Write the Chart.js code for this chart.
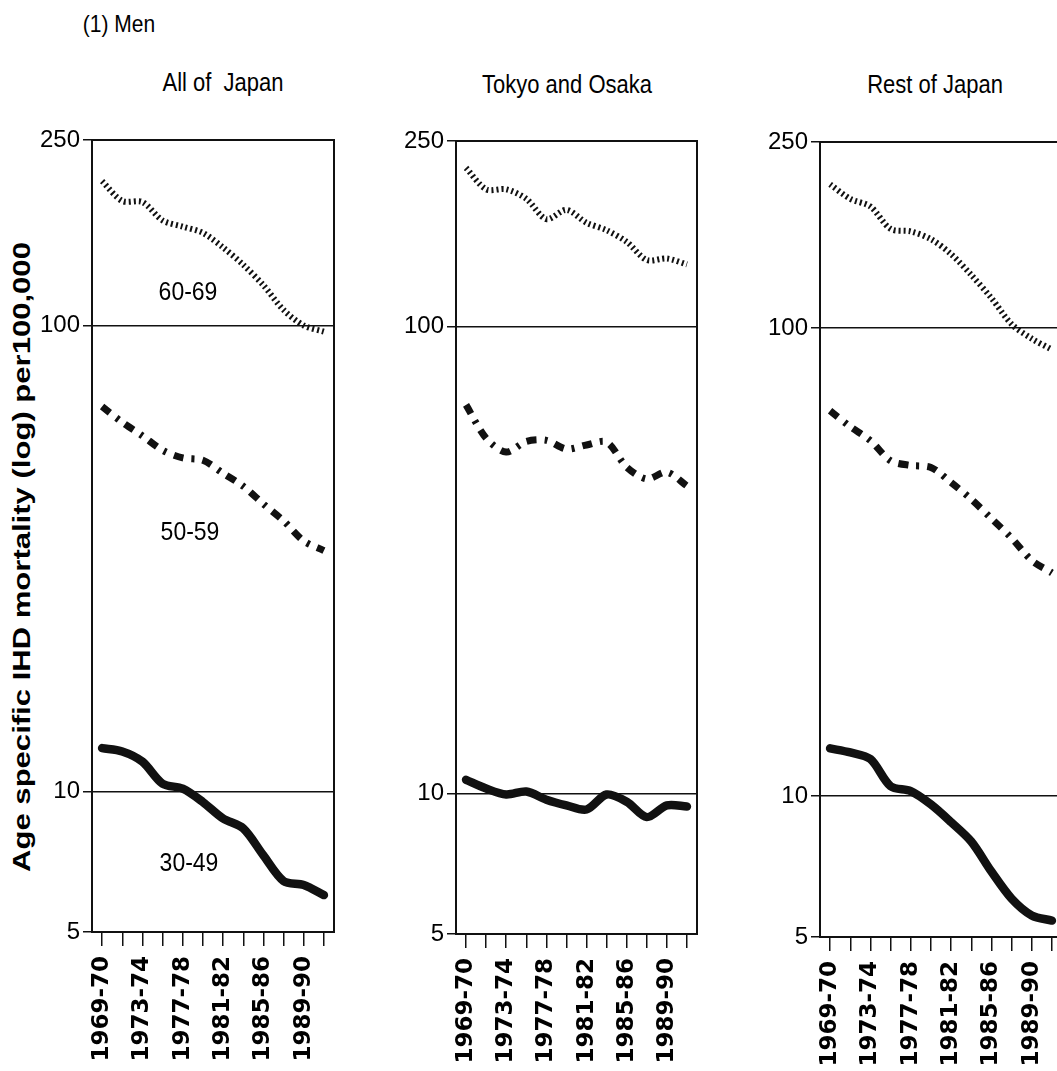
<!DOCTYPE html>
<html>
<head>
<meta charset="utf-8">
<script src="https://cdn.jsdelivr.net/npm/chart.js@4.4.1/dist/chart.umd.min.js"></script>
<style>
  html, body { margin: 0; padding: 0; background: #fff; overflow: hidden; }
  body { width: 1057px; height: 1071px; position: relative; font-family: "Liberation Sans", Arial, sans-serif; color: #000; }
  canvas { position: absolute; top: 0; }
  .txt { position: absolute; white-space: pre; transform: translate(-50%, -50%) scaleY(1.15); font-size: 22px; }
  .ytitle { position: absolute; white-space: nowrap; font-weight: bold; font-size: 23px;
            transform: translate(-50%, -50%) rotate(-90deg) scaleX(1.35); }
</style>
</head>
<body>
<div class="txt" style="left:119px; top:24px; font-size:21px;">(1) Men</div>
<div class="txt" style="left:223px; top:83px;">All of  Japan</div>
<div class="txt" style="left:567px; top:85px;">Tokyo and Osaka</div>
<div class="txt" style="left:935px; top:85px;">Rest of Japan</div>
<div class="ytitle" style="left:22px; top:557px;">Age specific IHD mortality (log) per100,000</div>

<canvas id="p1" width="345" height="1071" style="left:0px"></canvas>
<canvas id="p2" width="350" height="1071" style="left:360px"></canvas>
<canvas id="p3" width="360" height="1071" style="left:720px"></canvas>

<div class="txt" style="left:188px; top:291px; font-size:23px;">60-69</div>
<div class="txt" style="left:190px; top:531px; font-size:23px;">50-59</div>
<div class="txt" style="left:189px; top:862px; font-size:23px;">30-49</div>

<script>
// periods on the x axis, every other one is labelled
const categories = ['1969-70', '1971-72', '1973-74', '1975-76', '1977-78', '1979-80',
                    '1981-82', '1983-84', '1985-86', '1987-88', '1989-90', '1991-92'];
const yTicks = [5, 10, 100, 250];

// All of Japan
const allJapan60 = [204, 185, 184, 168, 163, 158, 147, 135, 122, 108, 100, 97];
const allJapan50 = [67, 62, 58, 54, 52, 51.4, 48.2, 45.2, 41.4, 38.1, 34.5, 32.9];
const allJapan30 = [12.4, 12.2, 11.6, 10.4, 10.15, 9.5, 8.76, 8.34, 7.3, 6.43, 6.31, 6.0];

// Tokyo and Osaka
const tokyo60 = [219, 197, 197, 188, 170, 178, 167, 161, 152, 139, 140, 136];
const tokyo50 = [68, 57.7, 53.9, 56.8, 57.1, 54.7, 55.8, 56.6, 50, 47.2, 48.8, 45.6];
const tokyo30 = [10.7, 10.25, 9.95, 10.1, 9.7, 9.43, 9.24, 9.95, 9.6, 8.9, 9.43, 9.38];

// Rest of Japan
const rest60 = [203, 189, 182, 163, 161, 155, 144, 130, 116, 102, 95, 90];
const rest50 = [66.6, 61.6, 57.5, 52.1, 50.9, 50.4, 46.8, 43.1, 39.2, 35.6, 31.9, 30];
const rest30 = [12.65, 12.4, 12.0, 10.5, 10.25, 9.6, 8.8, 8.0, 6.9, 6.04, 5.56, 5.42];

const ink = '#111';

// box round the plot area (top and right sides)
const framePlugin = {
  id: 'frame',
  afterDraw(chart) {
    const { ctx, chartArea: a } = chart;
    ctx.save();
    ctx.strokeStyle = ink;
    ctx.lineWidth = 2;
    ctx.strokeRect(a.left, a.top, a.right - a.left, a.bottom - a.top);
    ctx.restore();
  }
};

function makePanel(id, s60, s50, s30, g) {
  return new Chart(document.getElementById(id), {
    type: 'line',
    data: {
      labels: categories,
      datasets: [
        { label: '60-69', data: s60, borderColor: ink, borderWidth: 6, borderDash: [2, 3], tension: 0.3, pointRadius: 0 },
        { label: '50-59', data: s50, borderColor: ink, borderWidth: 7, borderDash: [10, 8, 3, 8], tension: 0.3, pointRadius: 0 },
        { label: '30-49', data: s30, borderColor: ink, borderWidth: 8.5, borderCapStyle: 'round', borderJoinStyle: 'round', tension: 0.3, pointRadius: 0 }
      ]
    },
    options: {
      responsive: false,
      animation: false,
      layout: { padding: { top: g.top, right: g.padRight, left: 0, bottom: 0 } },
      plugins: { legend: { display: false }, tooltip: { enabled: false } },
      scales: {
        x: {
          offset: true,
          grid: { drawOnChartArea: false, color: ink, lineWidth: 1.5, tickLength: 14 },
          border: { color: ink, width: 2 },
          ticks: {
            autoSkip: false, minRotation: 90, maxRotation: 90, padding: 10, color: '#000',
            font: { family: 'DejaVu Sans', size: 23, weight: 'bold' },
            callback: (v, i) => (i % 2 === 0 ? categories[i] : '')
          },
          afterFit: s => { s.height = 1071 - g.bottom; s.paddingLeft = 0; s.paddingRight = 0; }
        },
        y: {
          type: 'logarithmic', min: 5, max: 250,
          afterBuildTicks: s => { s.ticks = yTicks.map(v => ({ value: v })); },
          grid: { color: ink, lineWidth: 1.5, tickLength: 9 },
          border: { color: ink, width: 2 },
          ticks: { color: '#000', padding: 3, font: { family: 'Liberation Sans', size: 24 }, callback: v => String(v) },
          afterFit: s => { s.width = g.axisW; s.paddingTop = 0; s.paddingBottom = 0; }
        }
      }
    },
    plugins: [framePlugin]
  });
}

makePanel('p1', allJapan60, allJapan50, allJapan30, { top: 140, bottom: 932, axisW: 92, padRight: 11 });
makePanel('p2', tokyo60, tokyo50, tokyo30, { top: 141, bottom: 934, axisW: 96, padRight: 13 });
makePanel('p3', rest60, rest50, rest30, { top: 142, bottom: 937, axisW: 100, padRight: 18 });
</script>
</body>
</html>
